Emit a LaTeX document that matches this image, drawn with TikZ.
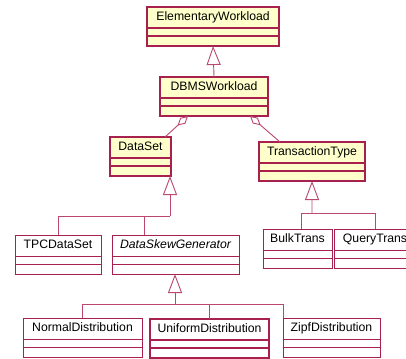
\documentclass[tikz,border=0pt]{standalone}
\usepackage{fontspec}
\setmainfont{Liberation Sans}
\usetikzlibrary{arrows.meta,positioning,calc}
\definecolor{umlred}{HTML}{A8204E}
\definecolor{umlline}{HTML}{BC4870}
\definecolor{umlfill}{HTML}{FFFFCC}
\begin{document}
\begin{tikzpicture}[x=0.025cm,y=-0.025cm]
  \tikzstyle{every node}+=[inner sep=0pt, outer sep=0pt]
  \tikzstyle{cname}=[draw=umlred, line width=0.6pt, minimum height=0.525cm, text height=6.3pt, text depth=1.8pt, font=\fontsize{8.7}{10}\selectfont]
  \tikzstyle{cattr}=[draw=umlred, line width=0.6pt, minimum height=0.2cm]
  \tikzstyle{cops}=[draw=umlred, line width=0.6pt, minimum height=0.25cm]
  \tikzstyle{hot}=[fill=umlfill, line width=0.9pt]
  \tikzstyle{link}=[draw=umlline, line width=0.65pt]
  \tikzstyle{gen}=[link, -{Triangle[length=13.5pt, width=10pt, fill=white]}]
  \tikzstyle{agg}=[link, -{Diamond[length=10pt, width=5.5pt, fill=white]}]
  \useasboundingbox (0,0) rectangle (406,358);
  \clip (0,0) rectangle (406,358);
  % classes
  \node[cname, hot, minimum width=3.3cm, anchor=north west] (ew) at (147,7) {ElementaryWorkload};
  \node[cattr, hot, minimum width=3.3cm, below=0pt of ew] (ew-a) {};
  \node[cops, hot, minimum width=3.3cm, below=0pt of ew-a] (ew-o) {};
  \node[cname, hot, minimum width=2.7cm, anchor=north west] (dbms) at (160,77) {DBMSWorkload};
  \node[cattr, hot, minimum width=2.7cm, below=0pt of dbms] (dbms-a) {};
  \node[cops, hot, minimum width=2.7cm, below=0pt of dbms-a] (dbms-o) {};
  \node[cname, hot, minimum width=1.525cm, anchor=north west] (ds) at (110,137) {DataSet};
  \node[cattr, hot, minimum width=1.525cm, below=0pt of ds] (ds-a) {};
  \node[cops, hot, minimum width=1.525cm, below=0pt of ds-a] (ds-o) {};
  \node[cname, hot, minimum width=2.65cm, anchor=north west] (tt) at (259,142) {TransactionType};
  \node[cattr, hot, minimum width=2.65cm, below=0pt of tt] (tt-a) {};
  \node[cops, hot, minimum width=2.65cm, below=0pt of tt-a] (tt-o) {};
  \node[cname, minimum width=2.15cm, anchor=north west] (tpc) at (15,235) {TPCDataSet};
  \node[cattr, minimum width=2.15cm, below=0pt of tpc] (tpc-a) {};
  \node[cops, minimum width=2.15cm, below=0pt of tpc-a] (tpc-o) {};
  \node[cname, minimum width=3.175cm, anchor=north west] (dsg) at (112,235) {\itshape DataSkewGenerator};
  \node[cattr, minimum width=3.175cm, below=0pt of dsg] (dsg-a) {};
  \node[cops, minimum width=3.175cm, below=0pt of dsg-a] (dsg-o) {};
  \node[cname, minimum width=1.725cm, anchor=north west] (bulk) at (263,229) {BulkTrans};
  \node[cattr, minimum width=1.725cm, below=0pt of bulk] (bulk-a) {};
  \node[cops, minimum width=1.725cm, below=0pt of bulk-a] (bulk-o) {};
  \node[cname, minimum width=2.05cm, anchor=north west] (query) at (334,229) {QueryTrans};
  \node[cattr, minimum width=2.05cm, below=0pt of query] (query-a) {};
  \node[cops, minimum width=2.05cm, below=0pt of query-a] (query-o) {};
  \node[cname, minimum width=2.975cm, anchor=north west] (normal) at (23,318) {NormalDistribution};
  \node[cattr, minimum width=2.975cm, below=0pt of normal] (normal-a) {};
  \node[cops, minimum width=2.975cm, below=0pt of normal-a] (normal-o) {};
  \node[cname, line width=1.2pt, minimum width=2.975cm, anchor=north west] (uniform) at (150,319) {UniformDistribution};
  \node[cattr, line width=1.2pt, minimum width=2.975cm, below=0pt of uniform] (uniform-a) {};
  \node[cops, line width=1.2pt, minimum width=2.975cm, below=0pt of uniform-a] (uniform-o) {};
  \node[cname, minimum width=2.425cm, anchor=north west] (zipf) at (283,318) {ZipfDistribution};
  \node[cattr, minimum width=2.425cm, below=0pt of zipf] (zipf-a) {};
  \node[cops, minimum width=2.425cm, below=0pt of zipf-a] (zipf-o) {};
  % inheritance and aggregation
  \draw[gen] (dbms.north) -- (ew-o.south);
  \draw[agg] ($(ds.north east)+(-6,0)$) -- ($(dbms-o.south)+(-26,0)$);
  \draw[agg] ($(tt.north west)+(21,0)$) -- ($(dbms-o.south)+(36,0)$);
  \coordinate (ds-bar) at (170,216);
  \coordinate (dsg-in) at (144,216);
  \draw[gen] (ds-bar) -- (ds-o.south -| ds-bar);
  \draw[link] (tpc.north) |- (ds-bar);
  \draw[link] (dsg.north -| dsg-in) -- (dsg-in);
  \coordinate (tt-bar) at (312,213);
  \coordinate (bulk-in) at (301,213);
  \draw[gen] (tt-bar) -- (tt-o.south);
  \draw[link] (bulk.north -| bulk-in) |- (query.north |- tt-bar) -- (query.north);
  \coordinate (dsg-bar) at (175,304);
  \draw[gen] (dsg-bar) -- (dsg-o.south -| dsg-bar);
  \draw[link] (normal.north) |- (zipf.north west |- dsg-bar) -- (zipf.north west);
  \draw[link] (uniform.north) -- (uniform.north |- dsg-bar);
\end{tikzpicture}
\end{document}
